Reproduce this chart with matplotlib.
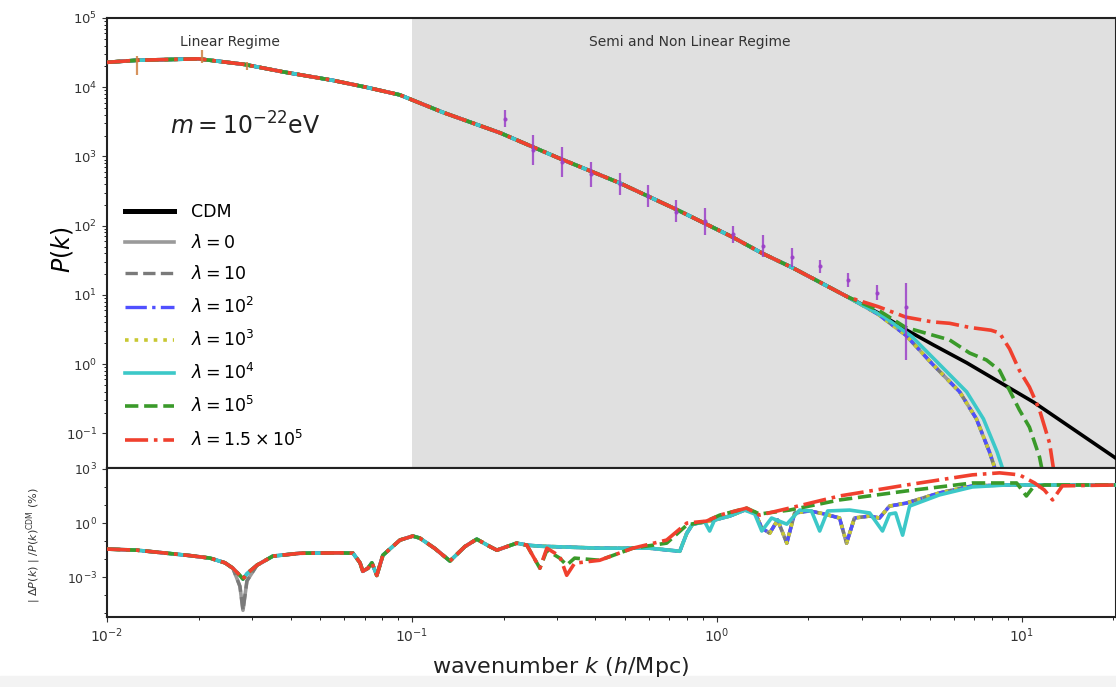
import numpy as np
import matplotlib
matplotlib.use("Agg")
import matplotlib.pyplot as plt
from matplotlib.patches import Rectangle

# ---------------- data (log10 values) ----------------
# CDM power spectrum
cdm_logk = [-2.0, -1.9, -1.7, -1.55, -1.42, -1.26, -1.15, -1.04, -0.90, -0.71, -0.52,
            -0.32, -0.13, 0.05, 0.15, 0.25, 0.34, 0.43, 0.53, 0.62, 0.71, 0.82, 1.04, 1.31]
cdm_logP = [4.36, 4.39, 4.41, 4.33, 4.22, 4.10, 4.00, 3.89, 3.64, 3.34, 2.98,
            2.62, 2.23, 1.84, 1.60, 1.39, 1.18, 0.97, 0.74, 0.50, 0.28, 0.02, -0.55, -1.36]
n_shared = 18  # models follow CDM up to log k = 0.43

# small-scale tails of the models
cut_tail_logk = [0.53, 0.62, 0.708, 0.797, 0.852, 0.895, 0.92, 0.95]
cut_tail_logP = [0.72, 0.42, 0.0, -0.40, -0.79, -1.27, -1.6, -2.2]
cyan_tail_logk = [0.55, 0.64, 0.73, 0.82, 0.875, 0.92, 0.945, 0.97]
cyan_tail_logP = [0.68, 0.40, 0.0, -0.40, -0.79, -1.27, -1.6, -2.2]
green_tail_logk = [0.53, 0.62, 0.708, 0.764, 0.83, 0.885, 0.928, 0.961, 0.993, 1.026, 1.059, 1.08, 1.10]
green_tail_logP = [0.78, 0.53, 0.42, 0.35, 0.16, 0.06, -0.09, -0.38, -0.66, -0.91, -1.34, -1.8, -2.2]
red_tail_logk = [0.53, 0.62, 0.708, 0.764, 0.83, 0.90, 0.928, 0.961, 0.993, 1.026, 1.059, 1.092, 1.108, 1.13]
red_tail_logP = [0.83, 0.68, 0.61, 0.59, 0.53, 0.49, 0.45, 0.22, -0.09, -0.33, -0.66, -1.14, -1.6, -2.2]

# error bars (purple)
err_logk = [-0.695, -0.603, -0.508, -0.413, -0.318, -0.226, -0.134, -0.039, 0.052,
            0.151, 0.246, 0.338, 0.430, 0.525, 0.620]
err_P = [3530, 1240, 830, 550, 398, 268, 160, 115, 75, 51, 35, 26, 16.4, 10.8, 6.6]
err_lo = [2660, 752, 505, 362, 277, 186, 112, 73, 56, 35, 25, 21, 13, 8.4, 1.14]
err_hi = [4680, 2040, 1370, 830, 576, 387, 235, 179, 100, 73, 47, 32, 21, 14, 14.8]
# error bars (orange, large scales)
oerr_logk = [-1.902, -1.689, -1.541]
oerr_P = [24500, 25500, 21000]
oerr_lo = [15100, 22400, 17800]
oerr_hi = [28200, 34700, 22900]

# relative difference |dP|/P_CDM (%) , log10 values
ratio_low_logk = [-2.000, -1.902, -1.803, -1.728, -1.662, -1.613, -1.587, -1.564, -1.554, -1.541,
                  -1.508, -1.456, -1.367, -1.236, -1.193, -1.170, -1.161, -1.144, -1.131, -1.115,
                  -1.095, -1.039, -0.997, -0.974, -0.925, -0.875, -0.826, -0.787, -0.744, -0.721,
                  -0.656, -0.623]
ratio_low_logv = [-1.44, -1.50, -1.67, -1.80, -1.94, -2.2, -2.5, -2.9, -3.1, -2.8,
                  -2.33, -1.83, -1.67, -1.65, -1.67, -2.2, -2.67, -2.5, -2.2, -2.9,
                  -1.78, -0.94, -0.72, -0.83, -1.4, -2.1, -1.3, -0.89, -1.3, -1.5,
                  -1.11, -1.22]
gray_low_logv = [-1.44, -1.50, -1.67, -1.80, -1.94, -2.2, -2.5, -3.5, -4.83, -3.2,
                 -2.33, -1.83, -1.67, -1.65, -1.67, -2.2, -2.67, -2.5, -2.2, -2.9,
                 -1.78, -0.94, -0.72, -0.83, -1.4, -2.1, -1.3, -0.89, -1.3, -1.5,
                 -1.11, -1.22]
blue_tail_logk = [-0.580, -0.384, -0.220, -0.121, -0.098, -0.079, -0.039, -0.007, 0.043, 0.092,
                  0.125, 0.148, 0.174, 0.200, 0.230, 0.256, 0.305, 0.354, 0.403, 0.426,
                  0.452, 0.502, 0.534, 0.567, 0.623, 0.731, 0.839, 0.951, 1.308]
blue_tail_logv = [-1.28, -1.39, -1.39, -1.56, -0.56, -0.06, 0.06, 0.17, 0.39, 0.72,
                  0.61, -0.28, -0.56, 0.17, -1.11, 0.56, 0.67, 0.50, 0.28, -1.11,
                  0.28, 0.39, 0.28, 0.94, 1.11, 1.67, 2.06, 2.11, 2.11]
cyanr_tail_logk = [-0.580, -0.384, -0.220, -0.121, -0.098, -0.079, -0.039, -0.023, -0.007, 0.043,
                   0.092, 0.125, 0.148, 0.180, 0.230, 0.272, 0.311, 0.338, 0.364, 0.436,
                   0.502, 0.544, 0.567, 0.587, 0.610, 0.633, 0.731, 0.839, 0.951, 1.308]
cyanr_tail_logv = [-1.28, -1.39, -1.39, -1.56, -0.56, -0.06, 0.06, -0.44, 0.17, 0.39,
                   0.72, 0.50, -0.44, 0.28, -0.06, 0.72, 0.67, -0.44, 0.67, 0.72,
                   0.56, -0.44, 0.50, 0.56, -0.67, 0.94, 1.56, 2.00, 2.11, 2.11]
greenr_tail_logk = [-0.580, -0.557, -0.515, -0.492, -0.466, -0.384, -0.275, -0.164, -0.098, -0.033,
                    0.010, 0.098, 0.141, 0.239, 0.403, 0.623, 0.839, 0.984, 1.016, 1.036, 1.075, 1.308]
greenr_tail_logv = [-2.5, -1.5, -1.94, -2.33, -1.94, -2.06, -1.39, -1.11, -0.11, 0.11,
                    0.44, 0.83, 0.5, 0.72, 1.28, 1.78, 2.22, 2.22, 1.5, 1.94, 2.11, 2.11]
redr_tail_logk = [-0.580, -0.557, -0.515, -0.492, -0.466, -0.384, -0.275, -0.164, -0.098, -0.033,
                  0.010, 0.098, 0.141, 0.239, 0.403, 0.623, 0.839, 0.928, 0.993, 1.043,
                  1.075, 1.102, 1.134, 1.308]
redr_tail_logv = [-2.5, -1.39, -1.83, -2.89, -2.22, -2.06, -1.39, -0.94, 0.0, 0.11,
                  0.44, 0.83, 0.44, 0.83, 1.5, 2.11, 2.67, 2.78, 2.67, 2.22,
                  1.83, 1.28, 2.06, 2.11]

labels = ["CDM", r"$\lambda = 0$", r"$\lambda = 10$", r"$\lambda = 10^2$", r"$\lambda = 10^3$",
          r"$\lambda = 10^4$", r"$\lambda = 10^5$", r"$\lambda = 1.5\times10^5$"]

# tick positions
top_yticks = [1e-1, 1e0, 1e1, 1e2, 1e3, 1e4, 1e5]
bot_yticks = [1e-3, 1e0, 1e3]
bot_yminor = [1e-5, 1e-4, 1e-2, 1e-1, 1e1, 1e2]
xticks = [1e-2, 1e-1, 1e0, 1e1]

# ---------------- figure ----------------
fig = plt.figure(figsize=(11.16, 6.87), dpi=100)
fig.patches.append(Rectangle((0, 0), 1, 0.016, transform=fig.transFigure,
                             color="#f3f3f3", zorder=-10))
L, W = 0.0959, 0.9041
ax1 = fig.add_axes([L, 0.3188, W, 0.655])
ax2 = fig.add_axes([L, 0.1019, W, 0.2169], sharex=ax1)

def tenpow(a):
    return 10 ** np.asarray(a, dtype=float)

def model(tk, tP):
    k = np.concatenate([tenpow(cdm_logk[:n_shared]), tenpow(tk)])
    P = np.concatenate([tenpow(cdm_logP[:n_shared]), tenpow(tP)])
    return k, P

styles = [
    dict(color="black", ls="-", lw=2.6),
    dict(color="#9a9a9a", ls="-", lw=2.6),
    dict(color="#7a7a7a", ls="--", lw=2.4),
    dict(color="#5050ff", ls="-.", lw=2.4),
    dict(color="#c8c832", ls=":", lw=2.6),
    dict(color="#3cc8c8", ls="-", lw=2.6),
    dict(color="#3a9a2a", ls="--", lw=2.6),
    dict(color="#f0402e", ls="-.", lw=2.6),
]

ax1.axvspan(0.1, 100, color="#e0e0e0", zorder=0, lw=0)

top_series = [
    (tenpow(cdm_logk), tenpow(cdm_logP)),
    model(cut_tail_logk, cut_tail_logP),
    model(cut_tail_logk, cut_tail_logP),
    model(cut_tail_logk, cut_tail_logP),
    model(cut_tail_logk, cut_tail_logP),
    model(cyan_tail_logk, cyan_tail_logP),
    model(green_tail_logk, green_tail_logP),
    model(red_tail_logk, red_tail_logP),
]
handles = []
for (k, P), st, lab in zip(top_series, styles, labels):
    h, = ax1.plot(k, P, label=lab, zorder=3, **st)
    handles.append(h)

ek = tenpow(err_logk)
eP = np.array(err_P)
ax1.errorbar(ek, eP, yerr=[eP - np.array(err_lo), np.array(err_hi) - eP], fmt='.',
             color="#9b40c8", ms=4, elinewidth=1.6, capsize=0, alpha=0.85, zorder=4)
ok = tenpow(oerr_logk)
oP = np.array(oerr_P)
ax1.errorbar(ok, oP, yerr=[oP - np.array(oerr_lo), np.array(oerr_hi) - oP], fmt='none',
             ecolor="#d08040", elinewidth=1.6, capsize=0, alpha=0.85, zorder=4)

ax1.set_xscale("log")
ax1.set_yscale("log")
ax1.set_xlim(1e-2, 10 ** 1.31)
ax1.set_ylim(10 ** -1.5, 1e5)
ax1.set_yticks(top_yticks)
ax1.set_yticks([m * d for d in top_yticks[:-1] for m in range(2, 10)], minor=True)
ax1.set_yticklabels([], minor=True)
ax1.tick_params(axis="x", which="both", labelbottom=False, bottom=False)
ax1.tick_params(axis="y", labelsize=9.5, colors="#333333")

leg = ax1.legend(handles=handles, loc="lower left", bbox_to_anchor=(0.0, 0.0),
                 frameon=False, fontsize=12.5, handlelength=2.8, handletextpad=1.0,
                 labelspacing=0.76, borderaxespad=0.65)
leg.legend_handles[0].set_linewidth(3.6)

fig.text(0.206, 0.939, "Linear Regime", ha="center", va="center", fontsize=10, color="#333333")
fig.text(0.618, 0.939, "Semi and Non Linear Regime", ha="center", va="center", fontsize=10,
         color="#333333")
fig.text(0.2195, 0.8166, r"$m = 10^{-22}$eV", ha="center", va="center", fontsize=17,
         color="#222222")

# bottom panel
ratio_series = [
    (ratio_low_logk + blue_tail_logk, gray_low_logv + blue_tail_logv),
    (ratio_low_logk + blue_tail_logk, gray_low_logv + blue_tail_logv),
    (ratio_low_logk + blue_tail_logk, ratio_low_logv + blue_tail_logv),
    (ratio_low_logk + blue_tail_logk, ratio_low_logv + blue_tail_logv),
    (ratio_low_logk + cyanr_tail_logk, ratio_low_logv + cyanr_tail_logv),
    (ratio_low_logk + greenr_tail_logk, ratio_low_logv + greenr_tail_logv),
    (ratio_low_logk + redr_tail_logk, ratio_low_logv + redr_tail_logv),
]
for (lk, lv), st in zip(ratio_series, styles[1:]):
    ax2.plot(tenpow(lk), tenpow(lv), zorder=3, **st)

ax2.set_yscale("log")
ax2.set_ylim(10 ** -5.2, 10 ** 3.05)
ax2.set_yticks(bot_yticks)
ax2.set_yticks(bot_yminor, minor=True)
ax2.set_yticklabels([], minor=True)
ax2.set_xlim(1e-2, 10 ** 1.31)
ax2.set_xticks(xticks)
ax2.tick_params(axis="y", labelsize=9, colors="#333333")
ax2.tick_params(axis="x", labelsize=10, colors="#333333")

for ax in (ax1, ax2):
    for s in ax.spines.values():
        s.set_linewidth(1.5)
        s.set_color("#222222")

fig.text(0.0556, 0.636, r"$P(k)$", rotation=90, ha="center", va="center", fontsize=17)
fig.text(0.030, 0.207, r"$|\ \Delta P(k)\ |\ / P(k)^{\rm CDM}$ (%)", rotation=90,
         ha="center", va="center", fontsize=8, color="#333333")
fig.text(0.502, 0.029, r"wavenumber $k$ ($h$/Mpc)", ha="center", va="center", fontsize=16,
         color="#222222")

fig.savefig("out.png", dpi=100)
